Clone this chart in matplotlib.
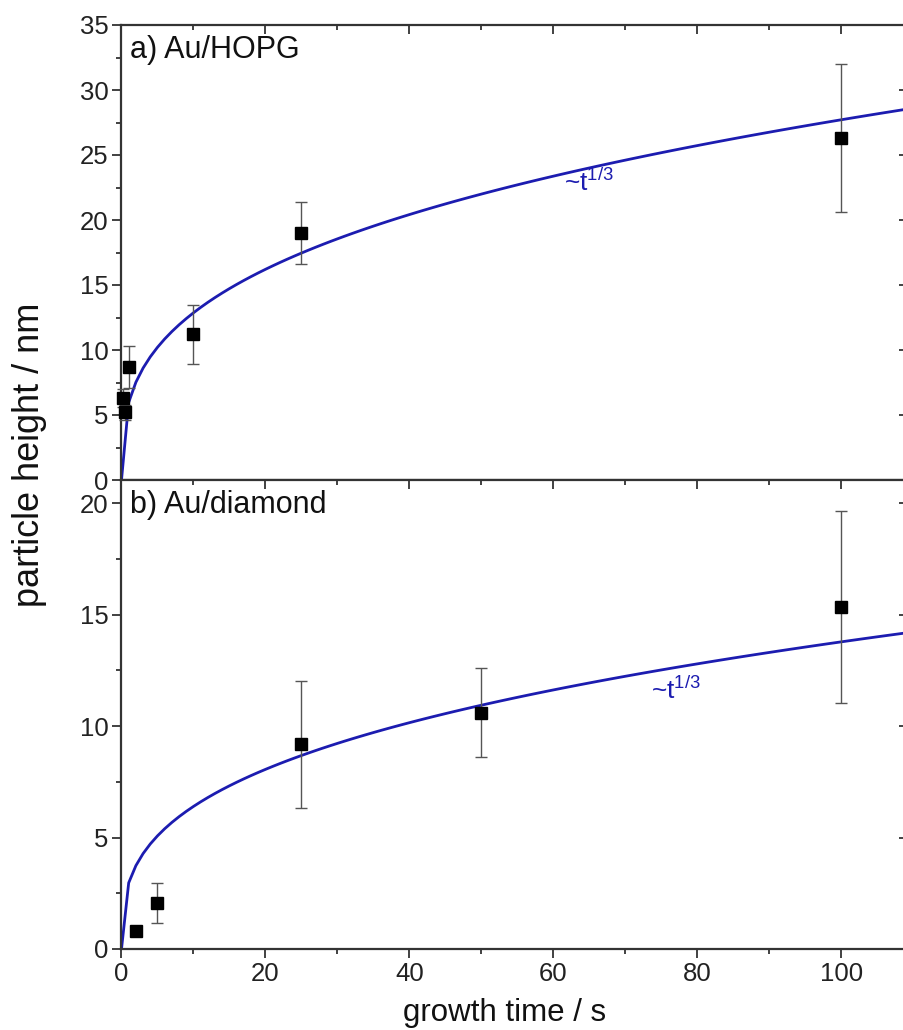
import numpy as np
import matplotlib
matplotlib.use("Agg")
import matplotlib.pyplot as plt
from matplotlib.ticker import MultipleLocator

plt.rcParams['font.family'] = ['Liberation Sans', 'DejaVu Sans']
plt.rcParams['mathtext.fontset'] = 'custom'
plt.rcParams['mathtext.rm'] = 'Liberation Sans'
plt.rcParams['mathtext.it'] = 'Liberation Sans'

# ---- data: a) Au/HOPG ----
hopg_time = [0.25, 0.5, 1, 10, 25, 100]
hopg_height = [6.3, 5.2, 8.7, 11.2, 19.0, 26.3]
hopg_err = [0.7, 0.6, 1.6, 2.3, 2.4, 5.7]
hopg_fit_prefactor = 5.97

# ---- data: b) Au/diamond ----
dia_time = [2, 5, 25, 50, 100]
dia_height = [0.82, 2.07, 9.2, 10.6, 15.35]
dia_err = [0.0, 0.9, 2.85, 2.0, 4.3]
dia_fit_prefactor = 2.97

fit_exponent = 1.0 / 3.0
fit_time = np.arange(0, 111, 1.0)

panel_labels = ["a) Au/HOPG", "b) Au/diamond"]
fit_label = r"~t$^{\mathrm{1/3}}$"

W, H = 904, 1030
fig = plt.figure(figsize=(W / 100, H / 100), dpi=100)

left_px, right_px = 121.5, 906.0
ax_top = fig.add_axes([left_px / W, (H - 480) / H, (right_px - left_px) / W, 455 / H])
ax_bot = fig.add_axes([left_px / W, (H - 949) / H, (right_px - left_px) / W, 469 / H])

curve_color = '#1c1cb0'
spine_color = '#333333'

def style(ax, ymax, ymajor):
    ax.set_xlim(0, 109)
    ax.set_ylim(0, ymax)
    ax.xaxis.set_major_locator(MultipleLocator(20))
    ax.xaxis.set_minor_locator(MultipleLocator(10))
    ax.yaxis.set_major_locator(MultipleLocator(ymajor))
    ax.yaxis.set_minor_locator(MultipleLocator(ymajor / 2))
    for s in ax.spines.values():
        s.set_linewidth(1.6)
        s.set_color(spine_color)
    ax.tick_params(which='both', direction='out', colors=spine_color, width=1.3,
                   labelsize=18.5, labelcolor='#222222', top=False, right=False)
    ax.tick_params(which='major', length=6.5, pad=3)
    ax.tick_params(which='minor', length=3.5)
    sec_x = ax.secondary_xaxis('top')
    sec_x.xaxis.set_major_locator(MultipleLocator(20))
    sec_x.xaxis.set_minor_locator(MultipleLocator(10))
    sec_x.tick_params(which='both', direction='in', colors=spine_color, width=1.3, labeltop=False)
    sec_x.tick_params(which='major', length=6.5)
    sec_x.tick_params(which='minor', length=3.5)
    sec_x.spines['top'].set_visible(False)
    sec_y = ax.secondary_yaxis('right')
    sec_y.yaxis.set_major_locator(MultipleLocator(ymajor))
    sec_y.yaxis.set_minor_locator(MultipleLocator(ymajor / 2))
    sec_y.tick_params(which='both', direction='in', colors=spine_color, width=1.3, labelright=False)
    sec_y.tick_params(which='major', length=5)
    sec_y.tick_params(which='minor', length=0)
    sec_y.spines['right'].set_visible(False)

style(ax_top, 35, 5)
style(ax_bot, 21.05, 5)
ax_top.tick_params(labelbottom=False)

for ax, t, h, e, a in [(ax_top, hopg_time, hopg_height, hopg_err, hopg_fit_prefactor),
                       (ax_bot, dia_time, dia_height, dia_err, dia_fit_prefactor)]:
    ax.plot(fit_time, a * fit_time ** fit_exponent, color=curve_color, lw=2.0, zorder=2)
    ax.errorbar(t, h, yerr=e, fmt='s', color='black', ms=8, ecolor='#555555',
                elinewidth=1.0, capsize=4, capthick=1.0, zorder=3, clip_on=False)

ax_top.text(0.011, 0.945, panel_labels[0], transform=ax_top.transAxes,
            fontsize=22, color='#111111', va='center', ha='left')
ax_bot.text(0.011, 0.947, panel_labels[1], transform=ax_bot.transAxes,
            fontsize=22, color='#111111', va='center', ha='left')

ax_top.text(65, 22.9, fit_label, color=curve_color, fontsize=19, ha='center', va='center')
ax_bot.text(77, 11.6, fit_label, color=curve_color, fontsize=19, ha='center', va='center')

fig.text(505 / W, 1 - 1013 / H, "growth time / s", fontsize=22.5, ha='center', va='center', color='#111111')
fig.text(30 / W, 1 - 455 / H, "particle height / nm", fontsize=26, ha='center', va='center',
         rotation=90, color='#111111')

fig.savefig("out.png", dpi=100)
